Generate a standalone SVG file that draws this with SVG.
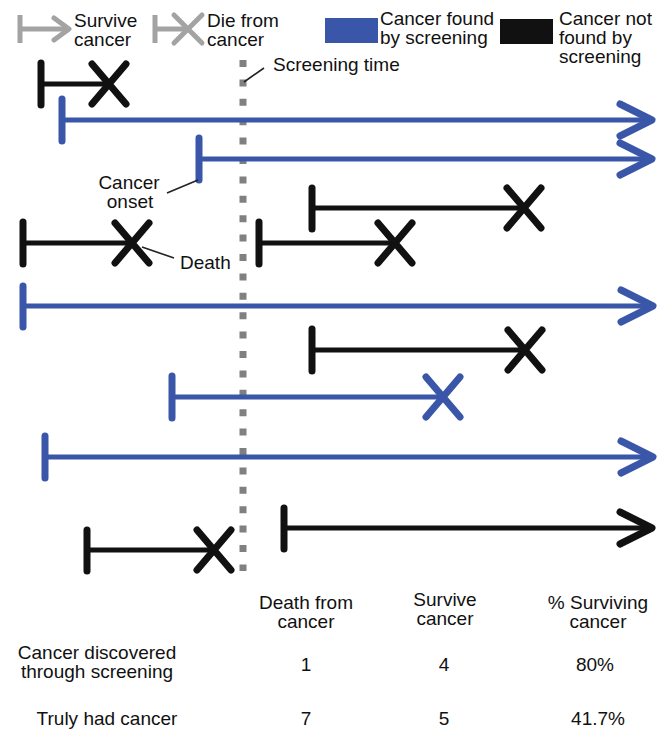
<svg xmlns="http://www.w3.org/2000/svg" width="662" height="734" viewBox="0 0 662 734">
<style>
text{font-family:"Liberation Sans",Arial,sans-serif;font-size:19px;fill:#111}
.mid{text-anchor:middle}
.bl{stroke:#3a56a8;fill:none}
.bk{stroke:#111;fill:none}
.gy{stroke:#a3a3a3;fill:none}
.bar{stroke-width:7;stroke-linecap:round}
.ln{stroke-width:5}
.hd{stroke-width:7;stroke-linecap:round;stroke-linejoin:round}
.lead{stroke:#222;stroke-width:1.6;fill:none}
</style>
<defs>
<path id="xm" d="M-17,-20 L17,20 M17,-20 L-17,20"/>
<path id="ah" d="M-32,-16 L0,0 L-32,16"/>
</defs>
<rect width="662" height="734" fill="#fff"/>

<g id="legend">
  <g id="leg-survive">
    <path class="gy" stroke-width="5" d="M20,15 V43 M20,29 H68"/>
    <path class="gy" stroke-width="5" stroke-linecap="round" stroke-linejoin="round" d="M54,18 L69,29 L54,40"/>
    <text x="74" y="27">Survive</text><text x="74" y="46">cancer</text>
  </g>
  <g id="leg-die">
    <path class="gy" stroke-width="5" d="M155,15 V43 M155,29 H186"/>
    <path class="gy" stroke-width="5" stroke-linecap="round" d="M174,15 L202,43 M202,15 L174,43"/>
    <text x="207" y="27">Die from</text><text x="207" y="46">cancer</text>
  </g>
  <g id="leg-found">
    <rect x="325" y="18" width="53" height="25" fill="#3a56a8"/>
    <text x="380" y="25">Cancer found</text><text x="380" y="44">by screening</text>
  </g>
  <g id="leg-notfound">
    <rect x="500" y="19" width="53" height="25" fill="#111"/>
    <text x="559" y="25">Cancer not</text><text x="559" y="44">found by</text><text x="559" y="63">screening</text>
  </g>
</g>

<g id="screening-time">
  <line x1="243" y1="60" x2="243" y2="571" stroke="#808080" stroke-width="7" stroke-dasharray="7 12.4"/>
  <path class="lead" d="M244,82 L264,68"/>
  <text x="273" y="71">Screening time</text>
</g>

<g id="connectors">
  <g id="r1" class="bk"><path class="bar" d="M41,63 V105"/><path class="ln" d="M41,84 H109"/><use href="#xm" x="109" y="84" class="hd"/></g>
  <g id="r2" class="bl"><path class="bar" d="M62,99 V141"/><path class="ln" d="M62,120 H650"/><use href="#ah" x="652" y="120" class="hd"/></g>
  <g id="r3" class="bl"><path class="bar" d="M199,138 V180"/><path class="ln" d="M199,159 H650"/><use href="#ah" x="652" y="159" class="hd"/></g>
  <g id="r4" class="bk"><path class="bar" d="M312,188 V229"/><path class="ln" d="M312,208 H524"/><use href="#xm" x="524" y="208" class="hd"/></g>
  <g id="r5" class="bk"><path class="bar" d="M259,222 V264"/><path class="ln" d="M259,243 H395"/><use href="#xm" x="395" y="243" class="hd"/></g>
  <g id="r6" class="bk"><path class="bar" d="M23,222 V264"/><path class="ln" d="M23,243 H132"/><use href="#xm" x="132" y="243" class="hd"/></g>
  <g id="r7" class="bl"><path class="bar" d="M23,286 V327"/><path class="ln" d="M23,306 H650"/><use href="#ah" x="653" y="306" class="hd"/></g>
  <g id="r8" class="bk"><path class="bar" d="M312,329 V371"/><path class="ln" d="M312,350 H525"/><use href="#xm" x="525" y="350" class="hd"/></g>
  <g id="r9" class="bl"><path class="bar" d="M172,376 V418"/><path class="ln" d="M172,397 H443"/><use href="#xm" x="443" y="397" class="hd"/></g>
  <g id="r10" class="bl"><path class="bar" d="M45,436 V478"/><path class="ln" d="M45,457 H650"/><use href="#ah" x="653" y="457" class="hd"/></g>
  <g id="r11" class="bk"><path class="bar" d="M284,508 V549"/><path class="ln" d="M284,528 H650"/><use href="#ah" x="652" y="528" class="hd"/></g>
  <g id="r12" class="bk"><path class="bar" d="M87,530 V571"/><path class="ln" d="M87,550 H213"/><use href="#xm" x="214" y="550" class="hd"/></g>
</g>

<g id="label-onset">
  <path class="lead" d="M167,193 L198,180"/>
  <text class="mid" x="129" y="189">Cancer</text><text class="mid" x="130" y="208">onset</text>
</g>
<g id="label-death">
  <path class="lead" d="M142,247 L174,258"/>
  <text x="180" y="269">Death</text>
</g>

<g id="table">
  <text class="mid" x="306" y="609">Death from</text><text class="mid" x="306" y="628">cancer</text>
  <text class="mid" x="445" y="606">Survive</text><text class="mid" x="445" y="625">cancer</text>
  <text class="mid" x="598" y="609">% Surviving</text><text class="mid" x="598" y="628">cancer</text>
  <text class="mid" x="97" y="659">Cancer discovered</text><text class="mid" x="97" y="678">through screening</text>
  <text class="mid" x="306" y="671">1</text><text class="mid" x="444" y="671">4</text><text class="mid" x="595" y="671">80%</text>
  <text class="mid" x="107" y="725">Truly had cancer</text>
  <text class="mid" x="306" y="725">7</text><text class="mid" x="444" y="725">5</text><text class="mid" x="598" y="725">41.7%</text>
</g>
</svg>
